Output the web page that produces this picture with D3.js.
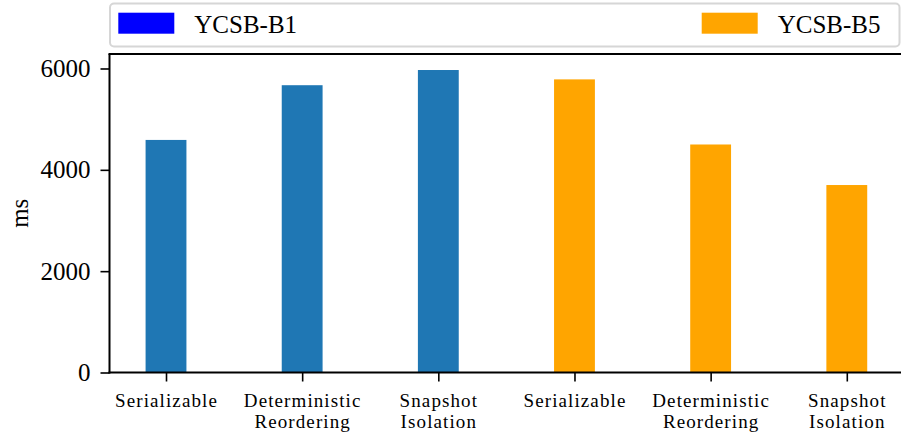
<!DOCTYPE html>
<html>
<head>
<meta charset="utf-8">
<script src="https://cdn.jsdelivr.net/npm/d3@7"></script>
<style>
  html, body { margin: 0; padding: 0; background: #fff; }
  svg { display: block; }
  text { font-family: "Liberation Serif", "DejaVu Serif", serif; fill: #000; }
</style>
</head>
<body>
<svg id="chart" width="901" height="437"></svg>
<script>
// Latency per isolation level for two YCSB workloads
const categories = [
  "Serializable", "Deterministic\nReordering", "Snapshot\nIsolation",
  "Serializable", "Deterministic\nReordering", "Snapshot\nIsolation"
];
const seriesNames = ["YCSB-B1", "YCSB-B5"];
const b1Values = [4590, 5670, 5970];
const b5Values = [5785, 4500, 3700];
const yTicks = [0, 2000, 4000, 6000];
const yLabel = "ms";

const barColors = ["#1f77b4", "#ffa500"];
const legendColors = ["#0000ff", "#ffa500"];

const bars = [
  ...b1Values.map((v, i) => ({ x: i, v, s: 0 })),
  ...b5Values.map((v, i) => ({ x: i + 3, v, s: 1 }))
];

const svg = d3.select("#chart");
const plot = { left: 109.5, top: 54, bottom: 372.5 };
const barWidth = 0.3;

const x = d3.scaleLinear().domain([-0.415, 5.415]).range([plot.left, 903.3]);
const y = d3.scaleLinear().domain([0, 6286]).range([plot.bottom, plot.top]);

// bars
svg.append("g").selectAll("rect").data(bars).join("rect")
  .attr("x", d => x(d.x - barWidth / 2))
  .attr("width", d => x(barWidth) - x(0))
  .attr("y", d => y(d.v))
  .attr("height", d => y(0) - y(d.v))
  .attr("fill", d => barColors[d.s]);

// y axis
const yAxis = svg.append("g")
  .attr("transform", `translate(${plot.left},0)`)
  .call(d3.axisLeft(y).tickValues(yTicks).tickFormat(d3.format("d")).tickSize(9).tickPadding(10));
yAxis.select(".domain").remove();
yAxis.selectAll(".tick line").attr("stroke", "#000").attr("stroke-width", 1.6);
yAxis.selectAll(".tick text").attr("font-size", 25).attr("font-family", "Liberation Serif");

// x axis: category labels, one text element per line
const xAxis = svg.append("g")
  .attr("transform", `translate(0,${plot.bottom})`)
  .call(d3.axisBottom(x).tickValues(d3.range(categories.length)).tickSize(9).tickFormat(""));
xAxis.select(".domain").remove();
xAxis.selectAll(".tick line").attr("stroke", "#000").attr("stroke-width", 1.6);
xAxis.selectAll(".tick").each(function (d) {
  const g = d3.select(this);
  categories[d].split("\n").forEach((line, k) => {
    g.append("text")
      .attr("text-anchor", "middle")
      .attr("font-size", 19)
      .attr("letter-spacing", 1.1)
      .attr("font-family", "Liberation Serif")
      .attr("x", 0)
      .attr("y", 34 + k * 21)
      .text(line);
  });
});

// spines: left, bottom, top
const spine = svg.append("g").attr("stroke", "#000").attr("stroke-width", 2).attr("fill", "none");
spine.append("line").attr("x1", plot.left).attr("x2", plot.left).attr("y1", plot.top).attr("y2", plot.bottom + 1);
spine.append("line").attr("x1", plot.left - 1).attr("x2", 901).attr("y1", plot.bottom).attr("y2", plot.bottom);
spine.append("line").attr("x1", plot.left - 1).attr("x2", 901).attr("y1", plot.top).attr("y2", plot.top);

// y label
svg.append("text")
  .attr("transform", `translate(28,${(plot.top + plot.bottom) / 2}) rotate(-90)`)
  .attr("text-anchor", "middle")
  .attr("font-size", 25)
  .text(yLabel);

// legend
const legend = svg.append("g");
legend.append("rect")
  .attr("x", 110).attr("y", 3.5).attr("width", 789.5).attr("height", 43)
  .attr("rx", 4).attr("fill", "#fff").attr("stroke", "#d6d6d6").attr("stroke-width", 2);
const legendX = [118.3, 701.7];
seriesNames.forEach((name, i) => {
  legend.append("rect")
    .attr("x", legendX[i]).attr("y", 12.7).attr("width", 56).attr("height", 21)
    .attr("fill", legendColors[i]);
  legend.append("text")
    .attr("x", legendX[i] + 76).attr("y", 33)
    .attr("font-size", 25)
    .text(name);
});
</script>
</body>
</html>
